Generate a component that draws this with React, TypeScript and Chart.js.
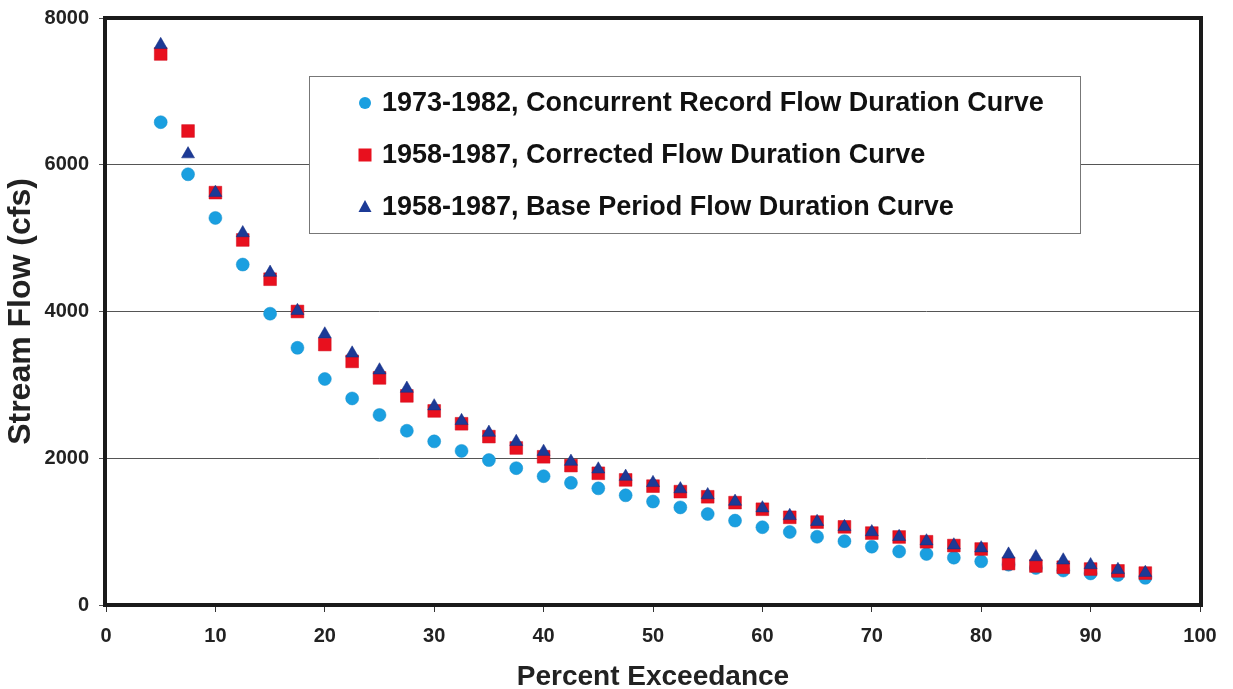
import React, { useEffect, useRef } from "react";
import { Chart, registerables } from "chart.js";

Chart.register(...registerables);

const percentExceedance = [5, 7.5, 10, 12.5, 15, 17.5, 20, 22.5, 25, 27.5, 30, 32.5, 35, 37.5, 40, 42.5, 45, 47.5, 50, 52.5, 55, 57.5, 60, 62.5, 65, 67.5, 70, 72.5, 75, 77.5, 80, 82.5, 85, 87.5, 90, 92.5, 95];

const concurrentFlow = [6580, 5870, 5275, 4640, 3970, 3505, 3080, 2815, 2590, 2375, 2230, 2100, 1975, 1865, 1755, 1665, 1590, 1495, 1410, 1330, 1240, 1150, 1060, 995, 930, 870, 795, 730, 695, 645, 595, 550, 505, 470, 430, 410, 370];

const correctedFlow = [7510, 6460, 5620, 4975, 4440, 4000, 3550, 3320, 3095, 2850, 2645, 2470, 2295, 2140, 2020, 1900, 1795, 1705, 1620, 1545, 1475, 1395, 1305, 1195, 1130, 1065, 980, 927, 862, 810, 763, 565, 532, 515, 490, 465, 435];

const baseFlow = [7635, 6145, 5620, 5070, 4530, 4010, 3690, 3430, 3200, 2950, 2710, 2510, 2350, 2225, 2090, 1955, 1850, 1750, 1665, 1580, 1500, 1410, 1320, 1215, 1135, 1065, 995, 930, 870, 815, 775, 690, 654, 610, 545, 480, 440];

const seriesLabels = [
  "1973-1982, Concurrent Record Flow Duration Curve",
  "1958-1987, Corrected Flow Duration Curve",
  "1958-1987, Base Period Flow Duration Curve",
];

const yTicks = [0, 2000, 4000, 6000, 8000];
const xTicks = [0, 10, 20, 30, 40, 50, 60, 70, 80, 90, 100];

const toPoints = (ys: number[]) => percentExceedance.map((x, i) => ({ x, y: ys[i] }));

const SANS = "'Liberation Sans', Arial, sans-serif";

export default function App() {
  const canvasRef = useRef<HTMLCanvasElement | null>(null);

  useEffect(() => {
    document.body.style.margin = "0";
    const canvas = canvasRef.current;
    if (!canvas) return;

    const frameAndLegend = {
      id: "frameAndLegend",
      afterDraw(chart: any) {
        const { ctx, chartArea } = chart;
        ctx.save();
        // thick plot border
        ctx.strokeStyle = "#1a1a1a";
        ctx.lineWidth = 4;
        ctx.strokeRect(chartArea.left - 1, chartArea.top, chartArea.right - chartArea.left + 2, chartArea.bottom - chartArea.top);

        // legend box
        const bx = 309, by = 76, bw = 771, bh = 157;
        ctx.fillStyle = "#ffffff";
        ctx.fillRect(bx, by, bw, bh);
        ctx.strokeStyle = "#777";
        ctx.lineWidth = 1;
        ctx.strokeRect(bx + 0.5, by + 0.5, bw, bh);

        const rows = [103, 155, 207];
        chart.data.datasets.forEach((ds: any, i: number) => {
          const y = rows[i];
          ctx.fillStyle = ds.backgroundColor;
          const cx = 365;
          if (ds.pointStyle === "circle") {
            ctx.beginPath();
            ctx.arc(cx, y, 6, 0, Math.PI * 2);
            ctx.fill();
          } else if (ds.pointStyle === "rect") {
            ctx.fillRect(cx - 6.5, y - 6.5, 13, 13);
          } else {
            ctx.beginPath();
            ctx.moveTo(cx, y - 7);
            ctx.lineTo(cx + 6.5, y + 5);
            ctx.lineTo(cx - 6.5, y + 5);
            ctx.closePath();
            ctx.fill();
          }
          ctx.fillStyle = "#111";
          ctx.font = `bold 27px ${SANS}`;
          ctx.textBaseline = "middle";
          ctx.textAlign = "left";
          ctx.fillText(seriesLabels[i], 382, y + 1);
        });
        ctx.restore();
      },
    };

    const chart = new Chart(canvas, {
      type: "scatter",
      data: {
        datasets: [
          {
            label: seriesLabels[0],
            data: toPoints(concurrentFlow),
            pointStyle: "circle",
            pointRadius: 6.5,
            backgroundColor: "#1a9fe0",
            borderColor: "#1590cc",
            borderWidth: 0.5,
            order: 2,
          },
          {
            label: seriesLabels[1],
            data: toPoints(correctedFlow),
            pointStyle: "rect",
            pointRadius: 9,
            backgroundColor: "#e8101e",
            borderColor: "#d00818",
            borderWidth: 0.5,
            order: 1,
          },
          {
            label: seriesLabels[2],
            data: toPoints(baseFlow),
            pointStyle: "triangle",
            pointRadius: 7.5,
            backgroundColor: "#1c3a96",
            borderColor: "#142c80",
            borderWidth: 0.5,
            order: 0,
          },
        ] as any,
      },
      options: {
        animation: false,
        responsive: false,
        layout: { padding: { top: 18, right: 33, left: 0, bottom: 0 } },
        plugins: {
          legend: { display: false },
          tooltip: { enabled: false },
        },
        scales: {
          x: {
            type: "linear",
            min: 0,
            max: 100,
            afterBuildTicks: (axis: any) => {
              axis.ticks = xTicks.map((v) => ({ value: v }));
            },
            afterFit: (axis: any) => {
              axis.height = 84;
            },
            grid: {
              drawOnChartArea: false,
              drawTicks: true,
              tickLength: 7,
              color: "#333",
            },
            border: { display: false },
            ticks: {
              color: "#222",
              font: { family: SANS, size: 20, weight: "bold" },
              padding: 12,
              maxRotation: 0,
            },
            title: {
              display: true,
              text: "Percent Exceedance",
              color: "#222",
              font: { family: SANS, size: 28, weight: "bold" },
              padding: { top: 0, bottom: -5 },
            },
          },
          y: {
            type: "linear",
            min: 0,
            max: 8000,
            afterBuildTicks: (axis: any) => {
              axis.ticks = yTicks.map((v) => ({ value: v }));
            },
            afterFit: (axis: any) => {
              axis.width = 106;
              axis.paddingTop = 10;
              axis.paddingBottom = 10;
            },
            grid: {
              drawOnChartArea: true,
              drawTicks: true,
              tickLength: 7,
              color: "#555",
              lineWidth: 1,
            },
            border: { display: false },
            ticks: {
              color: "#222",
              font: { family: SANS, size: 20, weight: "bold" },
              padding: 10,
              callback: (v: any) => String(v),
            },
            title: {
              display: true,
              text: "Stream Flow (cfs)",
              color: "#222",
              font: { family: SANS, size: 32, weight: "bold" },
              padding: { top: 2, bottom: 0 },
            },
          },
        },
      } as any,
      plugins: [frameAndLegend],
    });

    return () => {
      chart.destroy();
    };
  }, []);

  return (
    <div style={{ width: 1233, height: 689, background: "#fff" }}>
      <canvas ref={canvasRef} width={1233} height={689} />
    </div>
  );
}
